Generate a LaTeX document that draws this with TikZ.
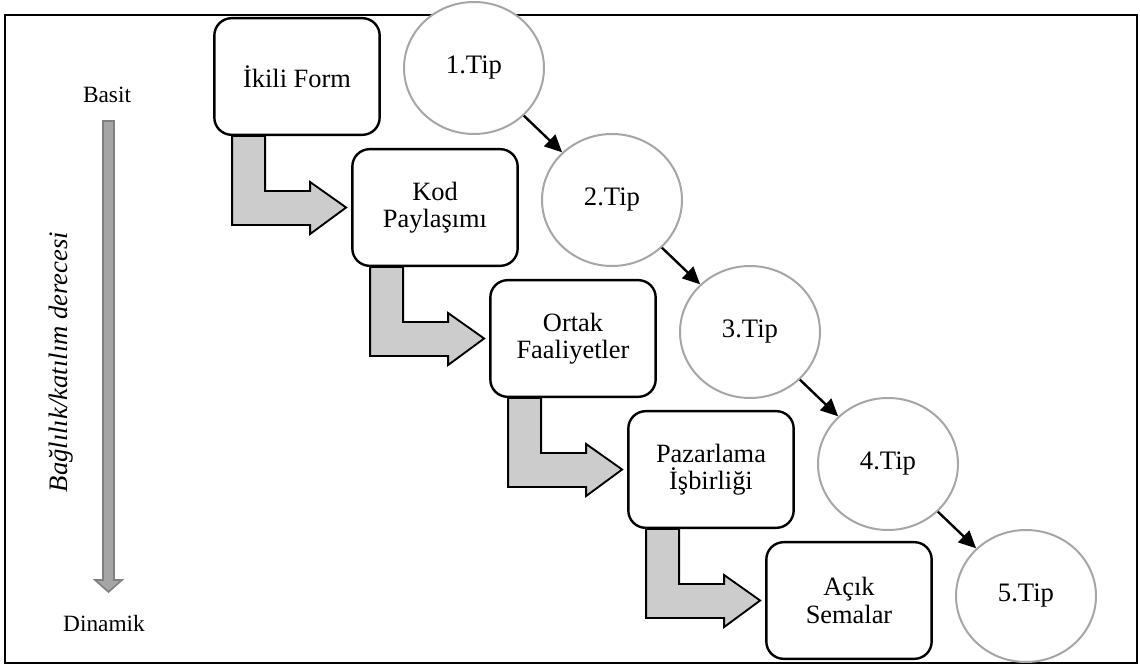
\documentclass[tikz,border=0pt]{standalone}
\usepackage{fontspec}
\setmainfont{Liberation Serif}
\usetikzlibrary{shapes.geometric,arrows.meta,calc}
\definecolor{circgray}{HTML}{A6A6A6}
\definecolor{larrowfill}{HTML}{CCCCCC}
\definecolor{sidefill}{HTML}{A5A5A5}
\definecolor{sideline}{HTML}{7F7F7F}
\tikzset{
  stagebox/.style={draw=black, line width=1.8pt, rounded corners=13pt, fill=white,
    minimum width=124pt, minimum height=87.5pt, align=center, inner sep=2pt,
    font=\fontsize{19.8}{20.5}\selectfont},
  tipcircle/.style={ellipse, draw=circgray, line width=1.5pt, fill=white,
    minimum width=105pt, minimum height=99pt, inner sep=0pt,
    font=\fontsize{20}{20.5}\selectfont},
  tiparrow/.style={draw=black, line width=1.8pt, -{Triangle[length=13pt,width=12pt]}},
  larrow/.style={draw=black, line width=1.4pt, fill=larrowfill, line join=miter},
  sidearrow/.style={draw=sideline, line width=1.2pt, fill=sidefill},
  sidelabel/.style={font=\fontsize{17.5}{20}\selectfont}
}
\newcommand{\Larrow}[2]{%
  \draw[larrow] ($(#1.south west)+(19,0)$) -- ++(0,89) -- ++(78,0) -- ++(0,9)
    -- ($(#2.west)+(-5,0)$) -- ($(#1.south west)+(97,46)$) -- ++(0,9) -- ++(-45,0)
    -- ++(0,-55) -- cycle;}
\begin{document}
\begin{tikzpicture}[x=0.75pt, y=-0.75pt]
\useasboundingbox (0,0) rectangle (1140,666);
\draw[line width=1.5pt] (5,15) rectangle (1137,663);
% side labels and arrow
\node[sidelabel] (basit) at (107,95) {Basit};
\node[sidelabel] (dinamik) at (104,624) {Dinamik};
\node[rotate=90, font=\fontsize{20}{22}\selectfont\itshape] (deg) at (61,362) {Bağlılık/katılım derecesi};
\coordinate (sa) at (108.5,121);
\coordinate (sb) at (108.5,592);
\draw[sidearrow] ($(sa)+(-5.5,0)$) -- ($(sa)+(5.5,0)$) -- ($(sb)+(5.5,-12)$) -- ($(sb)+(13.5,-12)$)
  -- (sb) -- ($(sb)+(-13.5,-12)$) -- ($(sb)+(-5.5,-12)$) -- cycle;
% boxes
\node[stagebox] (b1) at (297,76.5) {İkili Form};
\node[stagebox] (b2) at (435,207.5) {Kod\\Paylaşımı};
\node[stagebox] (b3) at (573,338.5) {Ortak\\Faaliyetler};
\node[stagebox] (b4) at (711,469.5) {Pazarlama\\İşbirliği};
\node[stagebox] (b5) at (849,600.5) {Açık\\Semalar};
% L arrows
\Larrow{b1}{b2}
\Larrow{b2}{b3}
\Larrow{b3}{b4}
\Larrow{b4}{b5}
% circles
\node[tipcircle] (t1) at (474,68) {1.Tip};
\node[tipcircle] (t2) at (612,200) {2.Tip};
\node[tipcircle] (t3) at (750,332) {3.Tip};
\node[tipcircle] (t4) at (888,464) {4.Tip};
\node[tipcircle] (t5) at (1026,596) {5.Tip};
\draw[tiparrow] (t1) -- (t2);
\draw[tiparrow] (t2) -- (t3);
\draw[tiparrow] (t3) -- (t4);
\draw[tiparrow] (t4) -- (t5);
\end{tikzpicture}
\end{document}
